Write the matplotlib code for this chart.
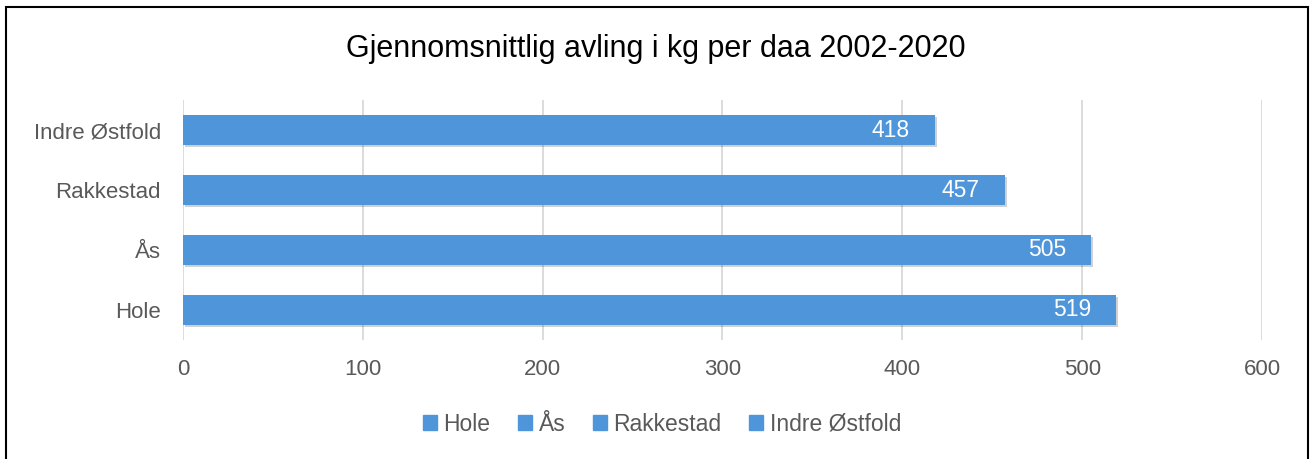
import numpy as np
import matplotlib
matplotlib.use("Agg")
import matplotlib.pyplot as plt
import matplotlib.patheffects as pe
from matplotlib.patches import Rectangle, Patch

# data
kommuner = ["Hole", "Ås", "Rakkestad", "Indre Østfold"]
avling = [519, 505, 457, 418]
xticks = [0, 100, 200, 300, 400, 500, 600]

bar_col = "#4F95D9"
txt_col = "#595959"

plt.rcParams["font.family"] = ["Liberation Sans", "DejaVu Sans"]

fig = plt.figure(figsize=(13.11, 4.59), dpi=100)
ax = fig.add_axes([0.1396, 0.2593, 0.8230, 0.5228])

y = np.arange(len(kommuner))
bars = ax.barh(y, avling, height=0.5, color=bar_col, zorder=3)
for b in bars:
    b.set_path_effects([pe.SimplePatchShadow(offset=(1.5, -1.5), shadow_rgbFace="#000000", alpha=0.18), pe.Normal()])

for yi, v in zip(y, avling):
    ax.text(v - 14, yi, str(v), ha="right", va="center", color="white", fontsize=16.5, zorder=4)

ax.set_xlim(0, 600)
ax.set_ylim(-0.5, 3.5)
ax.set_xticks(xticks)
ax.set_yticks(y)
ax.set_yticklabels(kommuner)
ax.tick_params(axis="both", length=0, labelsize=16, colors=txt_col)
ax.tick_params(axis="x", pad=14)
ax.tick_params(axis="y", pad=16)
ax.grid(axis="x", color="#D9D9D9", linewidth=1.3, zorder=0)
for s in ax.spines.values():
    s.set_visible(False)

fig.text(0.5, 0.893, "Gjennomsnittlig avling i kg per daa 2002-2020", ha="center", va="center",
         fontsize=22, color="black")

handles = [Patch(color=bar_col, label=k) for k in kommuner]
fig.legend(handles=handles, loc="center", bbox_to_anchor=(0.505, 0.076), ncol=4, frameon=False,
           fontsize=16.5, labelcolor=txt_col, handlelength=0.6, handleheight=0.6,
           handletextpad=0.3, columnspacing=1.2)

# ramme rundt figuren
fig.patches.append(Rectangle((6 / 1311, -0.05), 1302 / 1311, 1.05 - 7 / 459, transform=fig.transFigure,
                             fill=False, edgecolor="black", linewidth=1.5))

fig.savefig("out.png", dpi=100)
